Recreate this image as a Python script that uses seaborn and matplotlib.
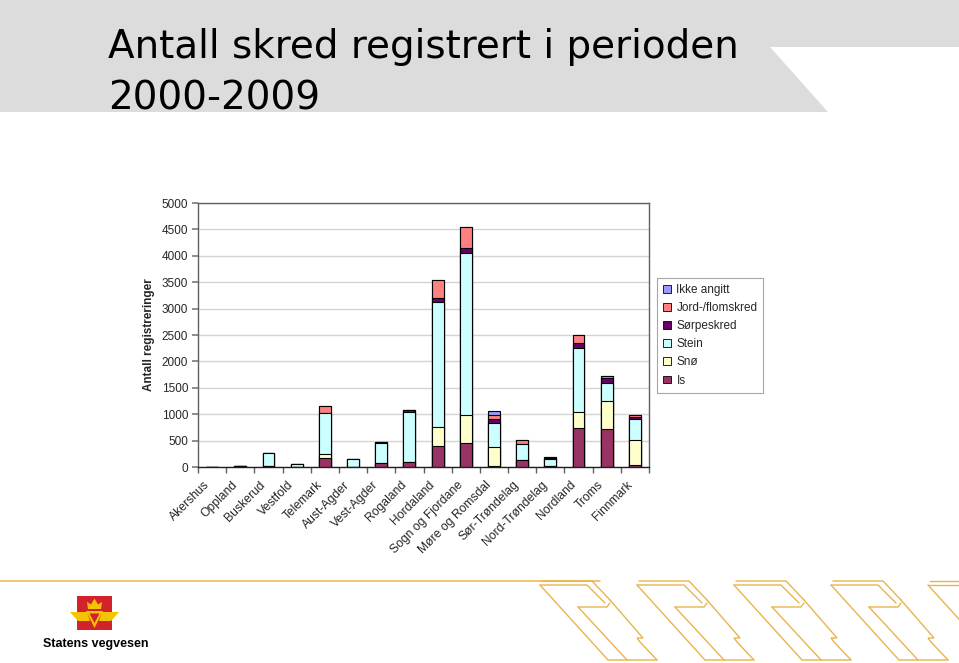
import numpy as np
import pandas as pd
import matplotlib
matplotlib.use("Agg")
import matplotlib.pyplot as plt
import matplotlib.transforms as mtransforms
import seaborn as sns
from matplotlib.patches import Patch, Polygon, Rectangle
from matplotlib import font_manager as fm

# ---------------- data ----------------
regions = ["Akershus", "Oppland", "Buskerud", "Vestfold", "Telemark", "Aust-Agder",
           "Vest-Agder", "Rogaland", "Hordaland", "Sogn og Fjordane", "Møre og Romsdal",
           "Sør-Trøndelag", "Nord-Trøndelag", "Nordland", "Troms", "Finnmark"]

is_vals    = [0, 10, 20, 5, 170, 5, 70, 100, 390, 453, 10, 130, 20, 742, 723, 44]
sno_vals   = [0, 0, 0, 0, 80, 0, 0, 0, 377, 541, 377, 0, 0, 308, 529, 472]
stein_vals = [0, 5, 240, 60, 770, 140, 390, 950, 2365, 3050, 440, 315, 130, 1208, 346, 396]
sorpe_vals = [0, 0, 0, 0, 0, 0, 20, 30, 63, 107, 76, 0, 20, 82, 88, 30]
jord_vals  = [0, 0, 5, 0, 130, 0, 0, 0, 346, 390, 81, 75, 20, 157, 37, 38]
ikke_vals  = [0, 0, 0, 0, 0, 0, 0, 0, 0, 0, 82, 0, 0, 0, 0, 0]

series_names = ["Is", "Snø", "Stein", "Sørpeskred", "Jord-/flomskred", "Ikke angitt"]
series_colors = ["#993366", "#FFFFCC", "#CCFFFF", "#660066", "#FF8080", "#9999FF"]
y_ticks = [0, 500, 1000, 1500, 2000, 2500, 3000, 3500, 4000, 4500, 5000]

title_line1 = "Antall skred registrert i perioden"
title_line2 = "2000-2009"
y_label = "Antall registreringer"
org_name = "Statens vegvesen"


def has_font(name):
    try:
        fm.findfont(fm.FontProperties(family=name), fallback_to_default=False)
        return True
    except Exception:
        return False


sns.set_theme(style="white")
chart_font = "Liberation Sans" if has_font("Liberation Sans") else "DejaVu Sans"
plt.rcParams["font.family"] = [chart_font, "DejaVu Sans"]

W, H = 959, 663
fig = plt.figure(figsize=(W / 100, H / 100), dpi=100)
fig.patch.set_facecolor("white")

# background / decoration axes in pixel coordinates
bg = fig.add_axes([0, 0, 1, 1], zorder=0)
bg.set_xlim(0, W)
bg.set_ylim(H, 0)
bg.axis("off")

bg.add_patch(Polygon([(0, 0), (W, 0), (W, 47), (770, 47), (828, 112), (0, 112)],
                     closed=True, facecolor="#dcdcdc", edgecolor="none"))
bg.text(108, 58, title_line1, fontsize=28, family=["DejaVu Sans"], va="baseline", ha="left", color="black")
bg.text(108, 110, title_line2, fontsize=28, family=["DejaVu Sans"], va="baseline", ha="left", color="black")

gold = "#e9b44c"
bg.plot([0, 600], [581, 581], color=gold, lw=1.1)
for ox in [540, 637, 734, 831, 928]:
    segs = [
        [(2, 581), (52, 581), (70, 600)],
        [(0, 585), (47, 585), (65, 603)],
        [(38, 607), (67, 607), (70, 603)],
        [(0, 585), (68, 660), (117, 660)],
        [(38, 607), (87, 660)],
        [(70, 600), (103, 638), (97, 638), (100, 642), (117, 660)],
    ]
    for s in segs:
        xs = [ox + p[0] for p in s]
        ys = [p[1] for p in s]
        bg.plot(xs, ys, color=gold, lw=1.0, solid_joinstyle="miter")

# logo
bg.add_patch(Rectangle((77, 596), 35, 34, facecolor="#d2232a", edgecolor="none"))
yellow = "#f5c400"
bg.add_patch(Polygon([(88, 609), (101, 609), (102, 602), (98, 604.5), (94.5, 598.5), (91, 604.5), (87, 602)],
                     closed=True, facecolor=yellow, edgecolor="none"))
bg.add_patch(Polygon([(70, 612), (87, 612), (90, 621), (78, 621)], closed=True, facecolor=yellow, edgecolor="none"))
bg.add_patch(Polygon([(119, 612), (102, 612), (99, 621), (111, 621)], closed=True, facecolor=yellow, edgecolor="none"))
bg.add_patch(Polygon([(86, 611), (103, 611), (94.5, 628)], closed=True, facecolor=yellow, edgecolor="none"))
bg.add_patch(Polygon([(89.5, 613.5), (99.5, 613.5), (94.5, 623)], closed=True, facecolor="#d2232a", edgecolor="none"))
bg.text(43, 647, org_name, fontsize=9, fontweight="bold", va="baseline", ha="left", color="black")

# ---------------- chart ----------------
ax = fig.add_axes([198 / W, (H - 467) / H, 451 / W, 264 / H], zorder=1)
ax.set_facecolor("white")

layers = [is_vals, sno_vals, stein_vals, sorpe_vals, jord_vals, ikke_vals]
cum = np.zeros(len(regions))
cums = []
for vals in layers:
    cum = cum + np.array(vals, dtype=float)
    cums.append(cum.copy())

for c, col in reversed(list(zip(cums, series_colors))):
    df = pd.DataFrame({"Fylke": regions, "Antall": c})
    sns.barplot(data=df, x="Fylke", y="Antall", order=regions, color=col, saturation=1,
                edgecolor="black", linewidth=0.8, width=0.42, errorbar=None, ax=ax)

ax.set_xlim(-0.5, len(regions) - 0.5)
ax.set_ylim(0, 5000)
ax.set_yticks(y_ticks)
ax.set_yticklabels([str(t) for t in y_ticks])
ax.yaxis.grid(True, color="#d4d4d4", lw=1)
ax.xaxis.grid(False)
ax.set_axisbelow(True)
ax.set_xlabel("")
ax.set_ylabel(y_label, fontsize=8.5, fontweight="bold")
ax.yaxis.set_label_coords(-0.095, 0.5)

ax.set_xticks(range(len(regions)))
ax.set_xticks(np.arange(-0.5, len(regions), 1), minor=True)
ax.tick_params(axis="x", which="major", length=0, pad=5, bottom=True)
ax.tick_params(axis="x", which="minor", length=4, color="#606060", direction="out", bottom=True)
ax.tick_params(axis="y", length=4, color="#808080", direction="out", pad=3, labelsize=8.5, left=True)
ax.set_xticklabels(regions, rotation=45, ha="right", va="top", rotation_mode="anchor", fontsize=8.7)
shift = mtransforms.ScaledTranslation(-9 / 100, -5 / 100, fig.dpi_scale_trans)
for lab in ax.get_xticklabels():
    lab.set_transform(lab.get_transform() + shift)

for name, sp in ax.spines.items():
    sp.set_visible(True)
    sp.set_color("#606060")
    sp.set_linewidth(1)
ax.spines["bottom"].set_color("#202020")

handles = [Patch(facecolor=col, edgecolor="black", lw=0.6, label=name)
           for name, col in reversed(list(zip(series_names, series_colors)))]
leg = ax.legend(handles=handles, loc="upper left", bbox_to_anchor=(657 / W, 1 - 278 / H),
                bbox_transform=fig.transFigure, frameon=True, fancybox=False,
                edgecolor="#909090", fontsize=8.5, handlelength=0.65, handleheight=0.65,
                handletextpad=0.5, labelspacing=0.52, borderpad=0.5, borderaxespad=0)
leg.get_frame().set_linewidth(0.8)

fig.savefig("out.png", dpi=100)
